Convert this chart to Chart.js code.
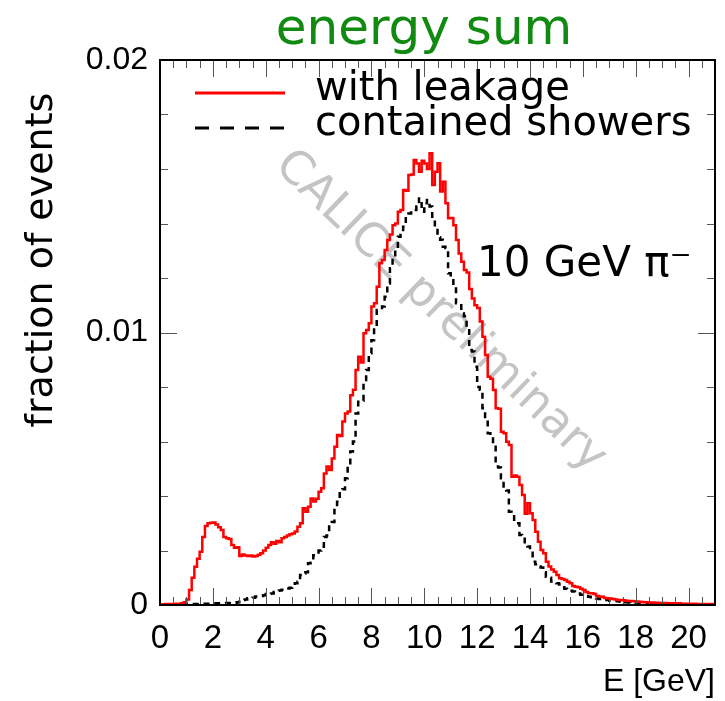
<!DOCTYPE html>
<html>
<head>
<meta charset="utf-8">
<title>energy sum</title>
<script src="https://cdn.jsdelivr.net/npm/chart.js@4.4.0/dist/chart.umd.min.js"></script>
<style>
body{margin:0;background:#fff;}
</style>
</head>
<body>
<canvas id="mycanvas" width="725" height="701"></canvas>
<script>
// histogram bins of 0.1 GeV starting at 0, values in units of 1e-3 (fraction of events)
var binWidth = 0.1;
var leakage = [
	0.03,0.03,0.04,0.03,0.04,0.04,0.05,0.05,0.06,0.10,
	0.20,0.55,1.00,1.40,1.70,1.95,2.50,2.90,3.00,3.02,
	3.03,2.95,2.85,2.75,2.50,2.45,2.42,2.20,2.10,2.12,
	1.80,1.85,1.82,1.80,1.82,1.78,1.80,1.84,1.90,2.00,
	2.10,2.20,2.30,2.25,2.35,2.30,2.45,2.50,2.55,2.60,
	2.62,2.70,2.87,3.00,3.55,3.42,3.61,3.91,3.80,3.90,
	4.16,4.28,4.83,5.08,4.95,5.38,5.81,6.24,6.20,6.73,
	7.03,7.10,7.70,7.90,8.62,9.11,8.90,9.97,10.09,10.34,
	10.95,11.07,11.68,12.54,12.66,13.03,13.39,13.60,13.94,14.00,
	14.43,14.50,15.23,15.20,15.78,15.80,16.33,16.20,15.90,16.30,
	16.20,16.00,16.58,15.41,15.90,16.21,15.17,15.53,14.74,14.19,
	14.20,13.94,13.39,12.90,12.60,12.29,12.20,11.60,11.25,11.00,
	10.90,10.40,9.84,9.17,8.38,8.30,7.89,7.22,7.20,6.36,
	6.30,5.99,5.87,4.71,4.75,4.71,4.40,4.04,3.35,3.73,
	3.37,3.12,2.69,2.32,2.02,1.90,1.59,1.41,1.30,1.22,
	1.10,0.98,0.95,0.92,0.85,0.80,0.70,0.67,0.65,0.60,
	0.55,0.48,0.43,0.43,0.40,0.33,0.31,0.30,0.26,0.25,
	0.24,0.22,0.20,0.18,0.18,0.17,0.16,0.15,0.15,0.14,
	0.13,0.12,0.11,0.10,0.10,0.09,0.09,0.08,0.08,0.07,
	0.07,0.07,0.06,0.06,0.06,0.05,0.06,0.05,0.05,0.05,
	0.05,0.04,0.05,0.04,0.04,0.04,0.04,0.04,0.03,0.04
];
var contained = [
	0.03,0.03,0.03,0.03,0.03,0.03,0.03,0.03,0.03,0.03,
	0.03,0.03,0.04,0.04,0.04,0.04,0.05,0.05,0.05,0.05,
	0.05,0.06,0.06,0.06,0.06,0.07,0.07,0.08,0.08,0.10,
	0.12,0.18,0.20,0.25,0.25,0.27,0.31,0.31,0.33,0.36,
	0.40,0.41,0.42,0.48,0.52,0.53,0.56,0.60,0.61,0.63,
	0.70,0.80,0.85,1.10,1.16,1.20,1.53,1.55,1.83,1.85,
	2.00,2.14,2.50,2.55,3.00,3.05,3.49,3.79,4.22,4.25,
	4.65,5.08,5.63,6.00,7.03,7.46,7.50,8.20,8.62,9.24,
	9.72,10.21,10.83,10.90,10.95,11.31,11.80,12.36,12.78,13.03,
	13.51,13.76,13.88,14.25,14.37,14.40,14.50,14.62,14.92,14.43,
	14.74,14.86,14.62,14.25,13.82,13.50,13.40,13.15,13.10,12.17,
	12.00,11.74,11.07,11.00,10.70,10.60,10.21,9.36,9.30,8.74,
	8.00,7.90,7.22,6.79,6.30,6.20,5.93,5.08,5.05,4.65,
	4.22,4.20,3.42,3.35,3.06,3.00,2.57,2.50,2.20,2.15,
	1.96,1.59,1.50,1.41,1.38,1.20,1.04,1.00,0.86,0.85,
	0.80,0.75,0.65,0.60,0.55,0.52,0.50,0.43,0.42,0.38,
	0.35,0.32,0.30,0.28,0.25,0.24,0.22,0.20,0.18,0.18,
	0.16,0.15,0.15,0.14,0.12,0.11,0.10,0.09,0.08,0.08,
	0.06,0.06,0.05,0.05,0.05,0.05,0.04,0.04,0.04,0.04,
	0.04,0.04,0.04,0.04,0.03,0.03,0.04,0.03,0.03,0.03,
	0.03,0.03,0.03,0.03,0.03,0.03,0.03,0.03,0.03,0.03
];
var seriesNames = ['with leakage', 'contained showers'];
var xTicks = [0,2,4,6,8,10,12,14,16,18,20];
var yTicks = [0,0.01,0.02];
var titleText = 'energy sum';
var yTitle = 'fraction of events';
var beamLabel = '10 GeV \u03c0\u207b';
var watermark = 'CALICE preliminary';

function toSteps(vals){
	var pts=[];
	for(var i=0;i<vals.length;i++){
		pts.push({x:Math.round(i*binWidth*10)/10, y:vals[i]/1000});
	}
	// closing edge of the last bin
	pts.push({x:Math.round(vals.length*binWidth*10)/10, y:vals[vals.length-1]/1000});
	return pts;
}

var sans='"DejaVu Sans", sans-serif';
var helv='"Liberation Sans", Arial, sans-serif';

// ROOT-like frame with inward ticks on all four sides
var framePlugin={
	id:'frame',
	afterDatasetsDraw:function(chart){
		var ctx=chart.ctx, a=chart.chartArea, xs=chart.scales.x, ys=chart.scales.y;
		ctx.save();
		ctx.strokeStyle='#555';
		ctx.lineWidth=1;
		ctx.beginPath();
		for(var i=0;i<=42;i++){
			var px=Math.round(xs.getPixelForValue(i*0.5))+0.5;
			var len=(i%4===0)?17:8;
			ctx.moveTo(px,a.bottom); ctx.lineTo(px,a.bottom-len);
			ctx.moveTo(px,a.top); ctx.lineTo(px,a.top+len);
		}
		for(var j=0;j<=10;j++){
			var py=Math.round(ys.getPixelForValue(j*0.002))+0.5;
			var l2=(j%5===0)?17:8;
			ctx.moveTo(a.left,py); ctx.lineTo(a.left+l2,py);
			ctx.moveTo(a.right,py); ctx.lineTo(a.right-l2,py);
		}
		ctx.stroke();
		ctx.strokeStyle='#000';
		ctx.lineWidth=2;
		ctx.strokeRect(a.left,a.top,a.right-a.left,a.bottom-a.top);
		ctx.restore();
	}
};

var watermarkPlugin={
	id:'watermark',
	beforeDatasetsDraw:function(chart){
		var ctx=chart.ctx, a=chart.chartArea;
		var cx=a.left+(a.right-a.left)*0.505, cy=a.top+(a.bottom-a.top)*0.462;
		ctx.save();
		ctx.translate(cx,cy);
		ctx.rotate(44*Math.PI/180);
		ctx.font='46px '+sans;
		ctx.fillStyle='#c4c4c4';
		ctx.textAlign='center';
		ctx.textBaseline='middle';
		ctx.fillText(watermark,0,0);
		ctx.restore();
	}
};

var labelPlugin={
	id:'labels',
	afterDraw:function(chart){
		var ctx=chart.ctx, a=chart.chartArea;
		ctx.save();
		// title
		ctx.font='50px '+sans;
		ctx.fillStyle='#108a10';
		ctx.textAlign='center';
		ctx.textBaseline='alphabetic';
		ctx.fillText(titleText,424,44);
		// y axis title
		ctx.save();
		ctx.translate(42,260);
		ctx.rotate(-Math.PI/2);
		ctx.font='38px '+sans;
		ctx.fillStyle='#000';
		ctx.textBaseline='middle';
		ctx.fillText(yTitle,0,0);
		ctx.restore();
		// legend
		ctx.font='40px '+sans;
		ctx.textBaseline='middle';
		ctx.textAlign='left';
		var rows=[a.top+30,a.top+65];
		chart.data.datasets.forEach(function(ds,k){
			ctx.strokeStyle=ds.borderColor;
			ctx.lineWidth=3;
			ctx.setLineDash(k===1?[14,11]:[]);
			ctx.beginPath();
			ctx.moveTo(a.left+35,rows[k]+3);
			ctx.lineTo(a.left+125,rows[k]+3);
			ctx.stroke();
			ctx.setLineDash([]);
			ctx.fillStyle='#000';
			ctx.fillText(ds.label,a.left+155,rows[k]);
		});
		ctx.font='42px '+sans;
		ctx.fillText(beamLabel,a.left+317,a.top+205);
		ctx.restore();
	}
};

var ctx=document.getElementById('mycanvas');
var chart=new Chart(ctx,{
	type:'line',
	data:{
		datasets:[
			{
				label:seriesNames[0],
				data:toSteps(leakage),
				borderColor:'#ff0000',
				borderWidth:2.5,
				stepped:true,
				pointRadius:0,
				fill:false
			},
			{
				label:seriesNames[1],
				data:toSteps(contained),
				borderColor:'#000000',
				borderWidth:2.5,
				borderDash:[6,5],
				stepped:true,
				pointRadius:0,
				fill:false
			}
		]
	},
	options:{
		responsive:false,
		animation:false,
		layout:{padding:{top:60,right:10,bottom:0,left:0}},
		plugins:{
			legend:{display:false},
			tooltip:{enabled:false},
			title:{display:false}
		},
		scales:{
			x:{
				type:'linear',
				min:0,
				max:21,
				grid:{display:false,drawTicks:false},
				border:{display:false},
				afterBuildTicks:function(axis){ axis.ticks=xTicks.map(function(v){return {value:v};}); },
				afterFit:function(axis){ axis.height=96; },
				ticks:{
					color:'#000',
					padding:14,
					maxRotation:0,
					autoSkip:false,
					font:{family:helv,size:33},
					callback:function(v){ return String(v); }
				},
				title:{
					display:true,
					text:'E [GeV]',
					align:'end',
					color:'#000',
					font:{family:helv,size:32},
					padding:{top:0,bottom:0}
				}
			},
			y:{
				min:0,
				max:0.02,
				grid:{display:false,drawTicks:false},
				border:{display:false},
				afterBuildTicks:function(axis){ axis.ticks=yTicks.map(function(v){return {value:v};}); },
				afterFit:function(axis){ axis.width=160; },
				ticks:{
					color:'#000',
					padding:12,
					autoSkip:false,
					font:{family:helv,size:32},
					callback:function(v){ return v===0?'0':v.toFixed(2); }
				}
			}
		}
	},
	plugins:[watermarkPlugin,framePlugin,labelPlugin]
});
</script>
</body>
</html>
